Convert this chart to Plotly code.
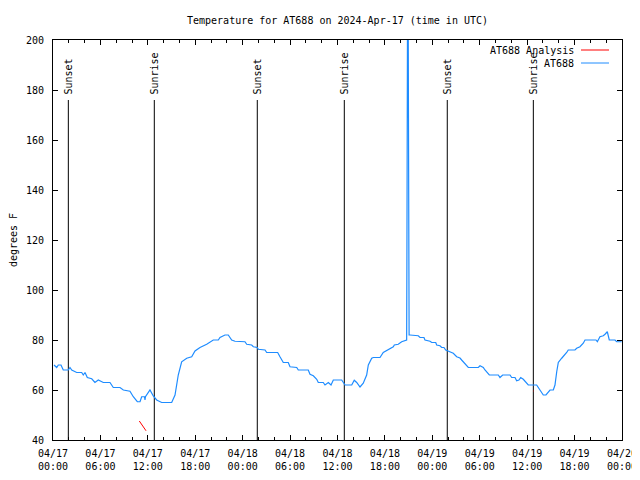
import pandas as pd
import plotly.graph_objects as go

start = pd.Timestamp("2024-04-17 00:00")

# AT688 observations: hours since 2024-04-17 00:00 UTC, degrees F
obs_hours = [0.13, 0.47, 0.67, 1.01, 1.30, 1.94, 2.15, 2.37, 3.00, 3.63, 3.83, 4.05, 4.34, 4.90,
             5.31, 5.73, 6.36, 7.21, 7.63, 8.48, 8.90, 9.74, 10.16, 10.67, 11.01, 11.22, 11.58,
             11.64, 11.70, 11.93, 12.27, 12.69, 13.12, 13.75, 15.02, 15.44, 15.85, 16.28, 16.92,
             17.55, 17.97, 18.60, 19.45, 20.28, 20.92, 21.13, 21.76, 22.18, 22.61, 23.03, 23.66,
             24.29, 24.51, 25.14, 25.35, 25.85, 25.98, 26.83, 27.04, 28.43, 28.72, 29.14, 29.77,
             29.99, 30.84, 31.04, 32.30, 32.52, 32.94, 33.37, 33.57, 34.20, 34.42, 34.84, 35.18,
             35.47, 36.53, 36.95, 37.80, 38.12, 38.43, 38.85, 39.26, 39.69, 39.90, 40.33, 40.53,
             41.38, 41.79, 42.43, 43.06, 43.19, 43.69, 44.12, 44.63, 44.75, 44.78, 44.82, 44.90,
             44.98, 45.02, 45.06, 45.17, 46.22, 46.44, 46.94, 47.07, 47.71, 47.92, 48.43, 48.55,
             48.97, 49.18, 49.47, 49.69, 50.23, 50.65, 51.08, 51.50, 51.71, 52.13, 52.55, 53.82,
             54.03, 54.45, 54.66, 55.21, 56.35, 56.56, 56.90, 57.83, 58.04, 58.46, 58.67, 58.96,
             59.18, 59.51, 59.94, 60.14, 61.20, 61.62, 62.04, 62.38, 62.67, 62.89, 63.31, 63.52,
             63.74, 63.94, 64.37, 64.57, 65.00, 65.20, 66.05, 66.26, 66.68, 67.10, 67.32, 68.71,
             68.88, 69.21, 69.63, 69.85, 70.14, 70.39, 71.11, 71.33, 71.96]
obs_temp = [70, 69, 70, 70, 68, 68, 69, 68, 67, 67, 66, 67, 65, 64.5,
            63, 64, 63, 63, 61, 61, 60, 59.5, 57.3, 55.3, 55.3, 57.3, 57.3,
            56, 57.3, 58.4, 60, 57.6, 56, 55, 55, 58, 66, 71.3, 72.7,
            73.3, 75.6, 77, 78.3, 80, 80, 81, 82, 82, 80, 79.5, 79.3,
            79.3, 78.3, 78, 77.3, 77, 76.3, 76, 75, 75, 73.3, 71, 71,
            69.3, 69, 68, 68, 66.3, 65.7, 64.3, 63, 63, 62, 63, 62,
            64, 64, 62, 62, 63.9, 63, 61.2, 62.7, 66, 70, 72.7, 73,
            73, 75, 76, 77.3, 78, 78.3, 79.3, 80, 80, 110, 170, 260,
            170, 110, 82, 82, 81.7, 81, 81, 80, 79.5, 79, 79, 78,
            77.7, 77, 77, 76, 75.3, 74.7, 73.3, 72.8, 72, 70.7, 69, 69,
            69.7, 69, 68, 66, 66, 65, 66, 66, 65, 65, 63.7, 64,
            65, 64.3, 63, 62, 62, 60, 58, 58, 59.3, 60, 60, 62,
            67.3, 71, 72.7, 73.3, 75, 76, 76, 76.7, 77.3, 78.7, 80, 80,
            79.3, 81.3, 81.7, 82.3, 83.3, 80, 80, 79.3, 79.3]

# AT688 Analysis
ana_hours = [10.92, 11.60, 11.77, None, 60.74, 60.80]
ana_temp = [47.6, 44.8, 43.7, None, 59.7, 59.6]

# Sun events
event_hours = [1.94, 12.82, 25.85, 36.86, 49.89, 60.78]
event_labels = ["Sunset", "Sunrise", "Sunset", "Sunrise", "Sunset", "Sunrise"]

def to_time(hs):
    return [None if h is None else start + pd.Timedelta(hours=h) for h in hs]

FONT = "DejaVu Sans Mono"
BLUE = "#1e8cff"
RED = "#ff0000"

# the page body has an 8px margin, so the figure is offset by (8, 8)
W, H = 632, 472
ML, MR, MT, MB = 45, 18, 32, 40
PW = W - ML - MR
PH = H - MT - MB

fig = go.Figure()

for h, lab in zip(event_hours, event_labels):
    t = start + pd.Timedelta(hours=h)
    fig.add_trace(go.Scatter(x=[t, t], y=[40, 176], mode="lines",
                             line=dict(color="black", width=1), showlegend=False,
                             hoverinfo="skip"))
    fig.add_annotation(x=t, y=177.5, text=lab, textangle=-90, showarrow=False,
                       xanchor="center", yanchor="bottom",
                       font=dict(family=FONT, size=10, color="black"))

fig.add_trace(go.Scatter(x=to_time(ana_hours), y=ana_temp, mode="lines",
                         line=dict(color=RED, width=1), name="AT688 Analysis",
                         connectgaps=False))
fig.add_trace(go.Scatter(x=to_time(obs_hours), y=obs_temp, mode="lines",
                         line=dict(color=BLUE, width=1.2), name="AT688"))

# manual gnuplot-style legend (text left of sample), positions relative to plot area
for i, (name, col) in enumerate([("AT688 Analysis", RED), ("AT688", BLUE)]):
    yoff = 10 + 13 * i
    yp = 1 - yoff / PH
    fig.add_annotation(xref="paper", yref="paper", x=(576 - 53) / PW, y=yp,
                       text=name, showarrow=False, xanchor="right", yanchor="middle",
                       font=dict(family=FONT, size=10, color="black"))
    fig.add_shape(type="line", xref="paper", yref="paper",
                  x0=(581 - 53) / PW, x1=(609 - 53) / PW, y0=yp, y1=yp,
                  line=dict(color=col, width=1))

fig.update_layout(
    width=W, height=H,
    margin=dict(l=ML, r=MR, t=MT, b=MB, autoexpand=False),
    paper_bgcolor="white", plot_bgcolor="white",
    showlegend=False,
    font=dict(family=FONT, size=10, color="black"),
    title=dict(text="Temperature for AT688 on 2024-Apr-17 (time in UTC)",
               x=(ML + PW / 2) / W, xanchor="center", y=1 - 12 / H, yanchor="middle",
               font=dict(family=FONT, size=10, color="black")),
)
fig.update_xaxes(
    type="date", automargin=False,
    range=[start, start + pd.Timedelta(hours=72)],
    tickmode="linear", tick0=start, dtick=6 * 3600 * 1000,
    tickformat="%m/%d<br>%H:%M",
    ticks="inside", ticklen=5, tickcolor="black",
    minor=dict(dtick=2 * 3600 * 1000, ticks="inside", ticklen=3, tickcolor="black"),
    showline=True, linecolor="black", linewidth=1, mirror="allticks",
    showgrid=False, zeroline=False, ticklabelstandoff=4,
    tickfont=dict(family=FONT, size=10, color="black"),
)
fig.update_yaxes(
    automargin=False,
    range=[40, 200], tickmode="linear", tick0=40, dtick=20,
    ticks="inside", ticklen=5, tickcolor="black",
    showline=True, linecolor="black", linewidth=1, mirror="allticks",
    showgrid=False, zeroline=False, ticklabelstandoff=6,
    title=dict(text="degrees F", standoff=17, font=dict(family=FONT, size=10, color="black")),
    tickfont=dict(family=FONT, size=10, color="black"),
)

fig.write_html("out.html")
